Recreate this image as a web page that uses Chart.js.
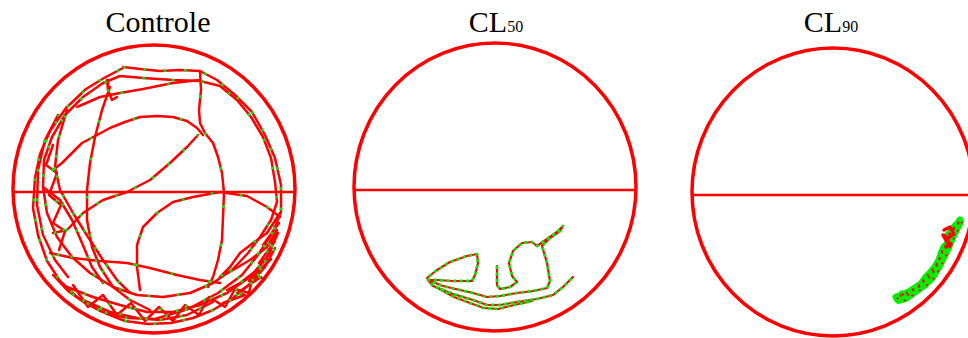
<!DOCTYPE html>
<html>
<head>
<meta charset="utf-8">
<script src="https://cdn.jsdelivr.net/npm/chart.js@4.4.1/dist/chart.umd.min.js"></script>
<style>
  html, body { margin: 0; padding: 0; background: #fff; }
  #page { position: relative; width: 968px; height: 338px; overflow: hidden; }
  .title {
    position: absolute;
    top: 7px;
    width: 220px;
    text-align: center;
    font-family: 'Liberation Serif', 'Times New Roman', serif;
    font-size: 30px;
    line-height: 30px;
    color: #000;
    white-space: nowrap;
  }
  .title small { font-size: 16px; }
  canvas { position: absolute; }
</style>
</head>
<body>
<div id="page">
  <div class="title" style="left:48px">Controle</div>
  <div class="title" style="left:386px">CL<small>50</small></div>
  <div class="title" style="left:721px">CL<small>90</small></div>
  <canvas id="controle" width="310" height="310" style="left:3px;top:35px"></canvas>
  <canvas id="cl50" width="310" height="310" style="left:344px;top:33px"></canvas>
  <canvas id="cl90" width="310" height="310" style="left:682px;top:38px"></canvas>
</div>
<script>
// arena in tracking pixels (x right, y down)
const arenaWidth = 282;
const arenaHeight = 288;
const midlineY = 147;

// Controle: track pieces [x, y]
const controleOuterLap = [[110,22],[127,24],[147,26],[167,25],[187,26],[204,35],[222,50],[239,67],[252,90],[262,113],[268,140],[268,167],[260,187],[245,210],[229,230],[205,248],[175,264],[142,274],[114,273],[87,266],[64,252],[47,236],[34,216],[25,190],[20,163],[22,133],[27,109],[37,86],[53,63],[73,44],[91,33],[110,23]];
const controleInnerLap = [[107,31],[130,33],[160,35],[187,36],[207,41],[224,55],[238,72],[250,92],[258,113],[262,137],[264,157],[258,175],[247,192],[235,208],[220,224],[200,238],[177,248],[150,252],[124,250],[100,242],[77,228],[59,212],[44,192],[34,168],[30,142],[31,115],[39,92],[52,70],[70,52],[90,38],[107,31]];
const controleRightArc = [[187,26],[188,45],[186,65],[187,78],[192,88],[200,98],[205,112],[209,128],[211,148],[210,172],[209,195],[205,215],[200,232],[195,242]];
const controleUpperArc = [[190,90],[184,83],[174,76],[160,72],[144,71],[127,72],[112,77],[97,83],[84,90],[69,98],[59,108],[49,118],[40,125]];
const controleDiagonal = [[40,188],[54,185],[70,168],[90,155],[114,147],[137,135],[157,118],[174,102],[185,90]];
const controleLowerArc = [[127,245],[124,222],[124,200],[130,182],[144,168],[160,157],[180,152],[207,147],[234,151],[254,162],[267,172]];
const controleLeftArc = [[97,42],[89,65],[82,92],[77,118],[74,145],[74,175],[79,202],[87,222],[100,242],[117,255],[137,265]];
const controleTopLine = [[64,62],[87,52],[107,48],[130,44],[160,38],[187,35]];
const controleLeftDiag1 = [[54,65],[45,95],[42,122],[47,145],[60,168],[75,192],[90,215],[104,235],[117,248]];
const controleLeftDiag2 = [[30,142],[47,155],[59,175],[69,198],[79,222],[90,238]];
const controleCrossLine = [[37,208],[60,213],[87,216],[114,218],[137,223],[164,230],[187,235],[207,238]];
const controleBottom1 = [[54,242],[80,252],[107,260],[134,267],[160,267],[187,260],[214,248],[237,232],[254,212],[265,188]];
const controleBottom2 = [[70,255],[97,267],[124,273],[147,275],[174,270],[200,257]];
const controleBottom3 = [[40,230],[55,246],[72,258],[92,268],[112,276],[135,279],[158,278],[180,273],[200,265],[220,253],[238,238],[252,222],[262,203]];
const controleBottomZig = [[60,240],[75,262],[90,250],[104,270],[118,258],[132,276],[146,262],[160,276],[172,260],[186,270],[196,252],[212,262],[222,244],[236,248],[240,230],[252,234]];
const controleCorner = [[267,168],[254,188],[240,198],[227,208],[217,222],[207,232],[220,225],[237,215],[254,202],[264,185],[257,208],[244,225],[227,238],[214,245]];
const controleCornerZig = [[266,178],[250,200],[262,196],[246,218],[258,214],[236,236],[248,232],[224,248],[232,250],[210,258]];
const controleLeftWall = [[45,70],[32,95],[25,125],[24,160],[30,190],[42,215],[55,232]];
const controleLeftZig = [[40,100],[33,120],[44,128],[36,150],[48,160],[40,178],[52,186],[46,205]];
const controleHook = [[94,35],[95,45],[99,55],[104,52]];
const controleTracks = [
  controleOuterLap, controleInnerLap, controleRightArc, controleUpperArc,
  controleDiagonal, controleLowerArc, controleLeftArc, controleTopLine,
  controleLeftDiag1, controleLeftDiag2, controleCrossLine, controleBottom1,
  controleBottom2, controleBottom3, controleBottomZig, controleCorner,
  controleCornerZig, controleLeftWall, controleLeftZig, controleHook,
];

// CL50
const cl50Track = [[143,223],[143,242],[146,246],[156,244],[163,239],[158,233],[155,220],[159,208],[168,200],[178,199],[183,203],[193,196],[203,189],[209,183],[206,188],[196,195],[188,203],[193,220],[196,238],[193,245],[179,248],[163,250],[146,253],[133,254],[119,250],[106,247],[89,243],[76,238],[73,235],[83,227],[96,219],[113,213],[123,211],[124,220],[121,232],[118,238],[99,238],[83,237],[74,237],[79,243],[99,251],[119,257],[133,262],[146,262],[163,259],[183,256],[199,252],[209,244],[219,234]];
const cl50Lower = [[82,244],[100,254],[116,260],[130,265],[144,266],[160,262],[178,258]];

// CL90
const cl90Track = [[205,251],[210,246],[214,249],[221,242],[226,240],[231,234],[236,231],[240,226],[243,221],[246,215],[248,210],[250,205],[253,200],[256,195],[257,190],[258,185],[261,181],[263,178],[266,175],[268,172],[265,178],[260,183],[255,188],[257,194],[252,199],[249,206],[247,212],[243,219],[238,225],[234,229],[229,236],[223,240],[217,244],[210,247],[204,249]];
const cl90Edge = [[206,254],[214,252],[224,245],[234,238],[242,230],[248,220],[253,210],[258,200],[262,190],[266,182],[270,174]];
const cl90Blob = [[252,182],[258,179],[262,186],[256,190],[251,187],[255,194],[259,196],[254,199]];

const RED = '#ff0000';
const GREEN = '#00ee00';

const toXY = (pts) => pts.map(([x, y]) => ({ x, y }));

const arenaPlugin = {
  id: 'arena',
  beforeDatasetsDraw(chart) {
    const { ctx, scales: { x, y } } = chart;
    const cx = x.getPixelForValue(arenaWidth / 2);
    const cy = y.getPixelForValue(arenaHeight / 2);
    const rx = Math.abs(x.getPixelForValue(arenaWidth) - cx);
    const ry = Math.abs(y.getPixelForValue(arenaHeight) - cy);
    const my = y.getPixelForValue(midlineY);
    const k = (my - cy) / ry;
    const half = rx * Math.sqrt(1 - k * k);

    ctx.save();
    ctx.strokeStyle = RED;
    ctx.lineWidth = 3.5;
    ctx.beginPath();
    ctx.ellipse(cx, cy, rx, ry, 0, 0, Math.PI * 2);
    ctx.stroke();
    ctx.lineWidth = 2.5;
    ctx.beginPath();
    ctx.moveTo(cx - half, my);
    ctx.lineTo(cx + half, my);
    ctx.stroke();
    ctx.restore();
  },
};

const trackLine = (pts, color, width, dash = [], offset = 0, cap = 'round') => ({
  data: toXY(pts),
  showLine: true,
  borderColor: color,
  borderWidth: width,
  borderDash: dash,
  borderDashOffset: offset,
  borderCapStyle: cap,
  borderJoinStyle: 'round',
  pointRadius: 0,
  clip: false,
});

function makeArena(id, datasets) {
  return new Chart(document.getElementById(id), {
    type: 'scatter',
    data: { datasets },
    options: {
      responsive: false,
      animation: false,
      events: [],
      layout: { padding: 0 },
      plugins: { legend: { display: false }, tooltip: { enabled: false } },
      scales: {
        x: { type: 'linear', min: -10, max: 300, display: false },
        y: { type: 'linear', min: -10, max: 300, reverse: true, display: false },
      },
      elements: { line: { tension: 0 } },
    },
    plugins: [arenaPlugin],
  });
}

// first dataset is drawn on top
makeArena('controle', [
  ...controleTracks.map((seg, i) => trackLine(seg, GREEN, 2.6, [2.5, 18 + (i % 4) * 9], i * 7, 'butt')),
  ...controleTracks.map((seg) => trackLine(seg, RED, 2.5)),
]);

makeArena('cl50', [
  trackLine(cl50Track, GREEN, 2.8, [3, 3.5], 0, 'butt'),
  trackLine(cl50Lower, GREEN, 2.8, [3, 3.5], 2, 'butt'),
  trackLine(cl50Track, RED, 2.2),
  trackLine(cl50Lower, RED, 2.2),
]);

makeArena('cl90', [
  trackLine(cl90Blob, RED, 3.5),
  trackLine(cl90Track, RED, 2, [2, 5], 0, 'butt'),
  trackLine(cl90Edge, RED, 1.8, [2, 7], 3, 'butt'),
  trackLine(cl90Track, GREEN, 7),
  trackLine(cl90Edge, GREEN, 4),
]);
</script>
</body>
</html>
